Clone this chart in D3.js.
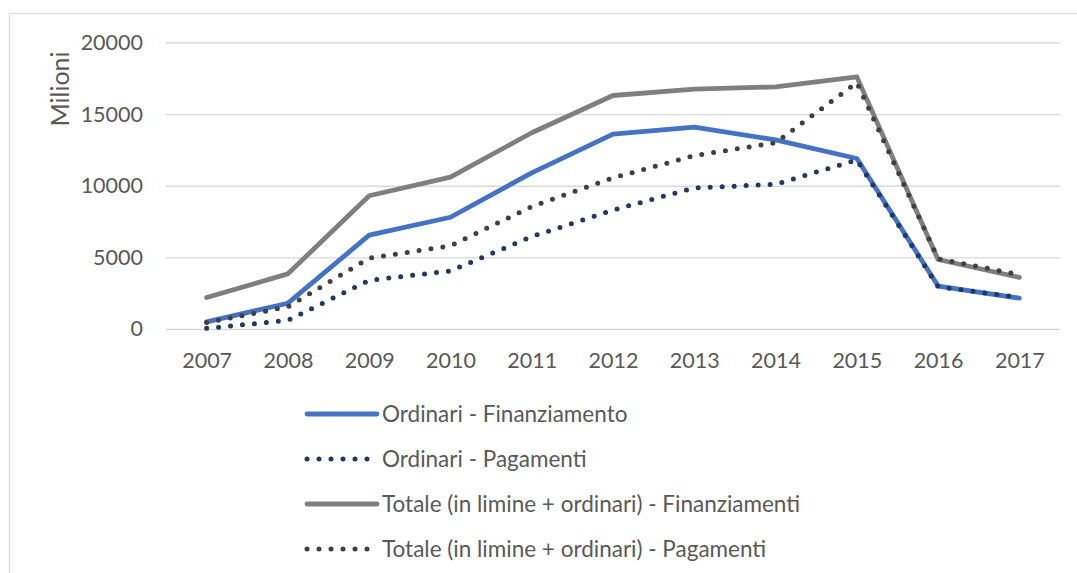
<!DOCTYPE html>
<html>
<head>
<meta charset="utf-8">
<script src="https://cdn.jsdelivr.net/npm/d3@7"></script>
<style>
  html, body { margin: 0; padding: 0; background: #fff; }
  #chart { width: 1077px; height: 573px; }
  text { font-family: Lato, "Open Sans", sans-serif; fill: #595959; }
</style>
</head>
<body>
<div id="chart"></div>
<script>
const years = ['2007', '2008', '2009', '2010', '2011', '2012', '2013', '2014', '2015', '2016', '2017'];
const yTicks = [0, 5000, 10000, 15000, 20000];

const ordinariFin = [500, 1800, 6550, 7800, 10900, 13600, 14100, 13200, 11900, 3000, 2150];
const ordinariPag = [50, 600, 3400, 4050, 6450, 8300, 9850, 10100, 11800, 2950, 2200];
const totaleFin = [2200, 3850, 9300, 10600, 13700, 16300, 16750, 16900, 17600, 4850, 3600];
const totalePag = [450, 1550, 4950, 5800, 8550, 10550, 12100, 13000, 17200, 4900, 3800];

const seriesNames = [
    'Ordinari - Finanziamento',
    'Ordinari - Pagamenti',
    'Totale (in limine + ordinari) - Finanziamenti',
    'Totale (in limine + ordinari) - Pagamenti'
];

const series = [
    { name: seriesNames[0], values: ordinariFin, color: '#4472C4', dotted: false },
    { name: seriesNames[1], values: ordinariPag, color: '#1F3864', dotted: true },
    { name: seriesNames[2], values: totaleFin, color: '#7F7F7F', dotted: false },
    { name: seriesNames[3], values: totalePag, color: '#404040', dotted: true }
];

const W = 1077, H = 573;
const plot = { left: 166, right: 1060, top: 42.5, bottom: 329 };

const svg = d3.select('#chart').append('svg')
    .attr('width', W)
    .attr('height', H);

// chart area border (only top and left edges fall inside the picture)
svg.append('rect')
    .attr('x', 9.5)
    .attr('y', 13.5)
    .attr('width', W + 20)
    .attr('height', H + 20)
    .attr('fill', '#fff')
    .attr('stroke', '#d9d9d9')
    .attr('stroke-width', 1.2);

const x = d3.scalePoint()
    .domain(years)
    .range([plot.left, plot.right])
    .padding(0.5);

const y = d3.scaleLinear()
    .domain([0, 20000])
    .range([plot.bottom, plot.top]);

// gridlines
svg.append('g')
    .attr('class', 'grid')
    .attr('transform', `translate(${plot.left},0)`)
    .call(d3.axisLeft(y).tickValues(yTicks).tickSize(-(plot.right - plot.left)).tickFormat(''))
    .call(g => g.select('.domain').remove())
    .call(g => g.selectAll('line').attr('stroke', '#d9d9d9').attr('stroke-width', 1.3));

// y axis labels
svg.append('g')
    .attr('transform', `translate(143,0)`)
    .call(d3.axisLeft(y).tickValues(yTicks).tickSize(0).tickPadding(0).tickFormat(d3.format('d')))
    .call(g => g.select('.domain').remove())
    .call(g => g.selectAll('text').style('font-size', '21.5px').attr('fill', '#595959'));

// x axis labels
svg.append('g')
    .attr('transform', `translate(0,${plot.bottom})`)
    .call(d3.axisBottom(x).tickSize(0).tickPadding(24))
    .call(g => g.select('.domain').remove())
    .call(g => g.selectAll('text').style('font-size', '21.5px').attr('fill', '#595959'));

// axis title
svg.append('text')
    .attr('transform', 'translate(69,89) rotate(-90)')
    .attr('text-anchor', 'middle')
    .style('font-size', '25px')
    .text('Milioni');

const line = d3.line()
    .x((d, i) => x(years[i]))
    .y(d => y(d));

series.forEach(s => {
    const path = svg.append('path')
        .datum(s.values)
        .attr('d', line)
        .attr('fill', 'none')
        .attr('stroke', s.color)
        .attr('stroke-width', 4.8)
        .attr('stroke-linejoin', 'round')
        .attr('stroke-linecap', 'round');
    if (s.dotted) {
        path.attr('stroke-dasharray', '0 12').attr('stroke-width', 5);
    }
});

// legend
const legend = svg.append('g')
    .attr('transform', 'translate(305,414)');

const items = legend.selectAll('.legend-item')
    .data(series)
    .enter()
    .append('g')
    .attr('class', 'legend-item')
    .attr('transform', (d, i) => `translate(0,${i * 45})`);

items.append('line')
    .attr('x1', 2)
    .attr('x2', 72)
    .attr('y1', 0)
    .attr('y2', 0)
    .attr('stroke', d => d.color)
    .attr('stroke-width', d => d.dotted ? 5 : 4.8)
    .attr('stroke-linecap', 'round')
    .attr('stroke-dasharray', d => d.dotted ? '0 12' : null);

items.append('text')
    .attr('x', 77)
    .attr('y', 0)
    .attr('dy', '0.35em')
    .style('font-size', '22.5px')
    .text(d => d.name);
</script>
</body>
</html>
